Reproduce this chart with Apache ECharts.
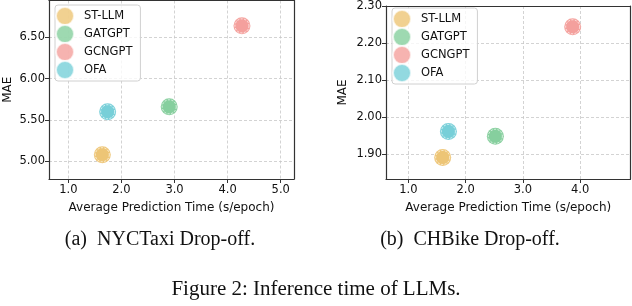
<!DOCTYPE html>
<html><head><meta charset="utf-8">
<script src="https://cdn.jsdelivr.net/npm/echarts@6/dist/echarts.min.js"></script>
<style>html,body{margin:0;padding:0;background:#fff}#c{width:632px;height:306px}</style>
</head><body><div id="c"></div>
<script>
const models = ['ST-LLM', 'GATGPT', 'GCNGPT', 'OFA'];
const colors = ['#EEC575', '#86CF9D', '#F4A09C', '#77CFD8'];
// NYCTaxi Drop-off: [time, MAE]
const taxiTime = [1.64, 2.90, 4.27, 1.74];
const taxiMAE = [5.08, 5.66, 6.64, 5.60];
// CHBike Drop-off
const bikeTime = [1.60, 2.52, 3.87, 1.70];
const bikeMAE = [1.892, 1.949, 2.244, 1.962];
const taxiXTicks = [1, 2, 3, 4, 5];
const taxiYTicks = [5.0, 5.5, 6.0, 6.5];
const bikeXTicks = [1, 2, 3, 4];
const bikeYTicks = [1.9, 2.0, 2.1, 2.2, 2.3];
const xName = 'Average Prediction Time (s/epoch)';
const yName = 'MAE';
const captions = ['(a)  NYCTaxi Drop-off.', '(b)  CHBike Drop-off.', 'Figure 2: Inference time of LLMs.'];

const font = 'DejaVu Sans';
const frame = {show: true, onZero: false, lineStyle: {color: '#333', width: 1.2}};
function xAxis(gi, min, max, ticks) {
  return {
    type: 'value', gridIndex: gi, min: min, max: max, position: 'bottom',
    name: xName, nameLocation: 'middle', nameGap: 23,
    nameTextStyle: {fontFamily: font, fontSize: 12, color: '#111'},
    axisLine: frame,
    axisTick: {show: true, length: 4, customValues: ticks, lineStyle: {color: '#333'}},
    axisLabel: {customValues: ticks, fontFamily: font, fontSize: 11.5, color: '#111', margin: 5,
      formatter: v => v.toFixed(1)},
    splitLine: {show: true, lineStyle: {color: '#c8c8c8', type: [3, 2], width: 0.8}}
  };
}
function xTop(gi, min, max) {
  return {type: 'value', gridIndex: gi, min: min, max: max, position: 'top',
    axisLine: frame, axisTick: {show: false}, axisLabel: {show: false}, splitLine: {show: false}};
}
function yAxis(gi, min, max, ticks, gap) {
  return {
    type: 'value', gridIndex: gi, min: min, max: max, position: 'left',
    name: yName, nameLocation: 'middle', nameGap: gap, nameRotate: 90,
    nameTextStyle: {fontFamily: font, fontSize: 12, color: '#111'},
    axisLine: frame,
    axisTick: {show: true, length: 4, customValues: ticks, lineStyle: {color: '#333'}},
    axisLabel: {customValues: ticks, fontFamily: font, fontSize: 11.5, color: '#111', margin: 4,
      formatter: v => v.toFixed(2)},
    splitLine: {show: true, lineStyle: {color: '#c8c8c8', type: [3, 2], width: 0.8}}
  };
}
function yRight(gi, min, max) {
  return {type: 'value', gridIndex: gi, min: min, max: max, position: 'right',
    axisLine: frame, axisTick: {show: false}, axisLabel: {show: false}, splitLine: {show: false}};
}
const series = [];
function addSeries(gi, xs, ys) {
  models.forEach((m, i) => {
    series.push({
      name: m + '_halo' + gi, type: 'scatter', xAxisIndex: gi, yAxisIndex: gi,
      data: [[xs[i], ys[i]]], symbolSize: 17, z: 2, silent: true,
      itemStyle: {color: colors[i], opacity: 0.95}
    });
    series.push({
      name: m, type: 'scatter', xAxisIndex: gi, yAxisIndex: gi,
      data: [[xs[i], ys[i]]], symbolSize: 14, z: 3,
      itemStyle: {color: colors[i], borderColor: 'rgba(255,255,255,0.85)', borderWidth: 1, borderType: [2, 1.5]}
    });
  });
}
addSeries(0, taxiTime, taxiMAE);
addSeries(1, bikeTime, bikeMAE);

function legend(left, top) {
  return {
    data: models.map(n => ({name: n, icon: 'circle'})), left: left, top: top, orient: 'vertical',
    itemWidth: 28, itemHeight: 18, itemGap: -2,
    padding: [1, 8, 1, 0],
    backgroundColor: 'rgba(255,255,255,0.8)', borderColor: '#d0d0d0', borderWidth: 1, borderRadius: 3,
    textStyle: {fontFamily: font, fontSize: 11.5, color: '#111', lineHeight: 14},
    selectedMode: false
  };
}

const chart = echarts.init(document.getElementById('c'), null, {renderer: 'canvas'});
chart.setOption({
  animation: false,
  grid: [
    {left: 49, right: 338, top: 0.5, bottom: 127},
    {left: 386, right: 1.5, top: 5, bottom: 127}
  ],
  xAxis: [xAxis(0, 0.636, 5.25, taxiXTicks), xAxis(1, 0.61, 4.88, bikeXTicks), xTop(0, 0.636, 5.25), xTop(1, 0.61, 4.88)],
  yAxis: [yAxis(0, 4.786, 6.947, taxiYTicks, 35), yAxis(1, 1.834, 2.30, bikeYTicks, 37), yRight(0, 4.786, 6.947), yRight(1, 1.834, 2.30)],
  legend: [legend(55, 5), legend(392, 8)],
  series: series,
  graphic: [
    {type: 'text', x: 160, y: 240, style: {text: captions[0], fontFamily: 'Liberation Serif', fontSize: 20, fill: '#111', align: 'center', verticalAlign: 'middle'}},
    {type: 'text', x: 470, y: 240, style: {text: captions[1], fontFamily: 'Liberation Serif', fontSize: 20, fill: '#111', align: 'center', verticalAlign: 'middle'}},
    {type: 'text', x: 316, y: 289, style: {text: captions[2], fontFamily: 'Liberation Serif', fontSize: 21, fill: '#111', align: 'center', verticalAlign: 'middle'}}
  ]
});
</script></body></html>
